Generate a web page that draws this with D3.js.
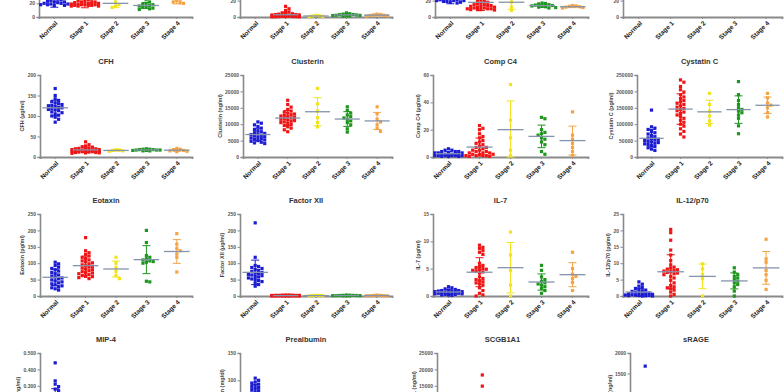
<!DOCTYPE html>
<html><head><meta charset="utf-8">
<script src="https://cdn.jsdelivr.net/npm/d3@7"></script>
<style>body{margin:0;background:#fff}svg{display:block}</style>
</head><body>
<svg id="c" width="784" height="392"></svg>
<script>
const groups = ["Normal", "Stage 1", "Stage 2", "Stage 3", "Stage 4"];
const colors = ["#1c1cd2", "#f01414", "#f2e41c", "#1c961c", "#f5a343"];

// ---- values per panel: [Normal, Stage1, Stage2, Stage3, Stage4]
const a1at = [
  [80,62,52,45,40,36,33,31,29,27,26,25,24,23,22,22,21,20,20,19,19,18,18,17,17],
  [70,55,45,40,36,33,30,28,27,26,25,24,23,22,22,21,21,20,20,19,19,18,18,18,17,17,17,16,16,16],
  [30,22,18,16,14],
  [26,22,20,19,18,17,16,15,14,13,12,11],
  [40,30,26,24,22,21,20]];
const apoA1 = [
  [95,85,78,72,68,65,62,60,58,56,54,52,50,48,46,44,42,40,38,36,34,32,30,28,26],
  [13,10,8,6,5,4,4,3.5,3,3,2.5,2.5,2,2,2,1.5,1.5,1.5,1.2,1,1,1,0.8,0.6,0.5,0.5,0.4,0.3,0.2,0.2],
  [2,1.5,1.2,0.8,0.5],
  [5,4,3.5,3,2.8,2.5,2.2,2,1.8,1.5,1.2,1],
  [3.5,3,2.5,2.2,1.8,1.5,1]];
const b2m = [
  [60,48,40,35,32,30,28,27,26,25,24,23,23,22,22,21,21,20,20,20,19,19,18,18,17],
  [50,40,34,30,27,25,23,21,20,19,18,17,16,15,15,14,14,13,13,12,12,11,11,10,10,10,9,9,9,8.5],
  [30,22,18,12,8],
  [17,16.5,16,15,14.5,14,13.5,13,12.5,12,11.5,11],
  [14,13.5,13,12.5,12,11.5,11]];
const bdnf = [
  [90,85,80,76,72,70,68,66,64,62,60,58,56,54,52,50,48,46,44,42],
  [75,70,66,62,60,58,56,54,52,50,48,46,44,42,40,38,36,34,32,30],
  [60,52,45,40,35],
  [62,58,54,50,47,44,41,38,35,32,30,28],
  [65,58,52,48,44,40,36]];
const cfh = [
  [167,150,142,138,135,132,130,128,126,125,123,121,120,118,116,115,113,110,108,105,102,100,97,92,85],
  [37,30,27,25,24,22,21,20,20,19,18,18,17,17,16,16,15,15,14,14,14,13,13,12,12,11,11,10,10,9],
  [18,17,16,15,14],
  [20,19,19,18,18,17,17,17,16,16,15,15],
  [21,19,18,16,15,14,13]];
const clusterin = [
  [10700,10300,9800,9300,8800,8400,8000,7700,7400,7200,7000,6800,6600,6400,6200,6000,5800,5600,5400,5200,5000,4800,4500,4300,4100],
  [17300,16000,15200,14500,14000,13700,13400,13100,12900,12700,12500,12300,12100,11900,11700,11500,11300,11100,10900,10700,10500,10200,9900,9600,9200,8800,8300,7700],
  [20900,16200,14000,12000,10500,9200],
  [15300,14200,13400,12800,12300,11900,11500,11000,10500,9800,8600,7600],
  [15300,13200,11500,10700,9800,8700,7800]];
const compC4 = [
  [6,5,5,4,4,4,3,3,3,3,2,2,2,2,2,2,1,1,1,1,1,1,0.5,0.5,0.5],
  [23,21,20,17,15,14,12,11,10,9,8,7,7,6,5,5,4,4,3,3,3,2,2,2,1,1,1,1,0.5,0.5],
  [53,27,14,5,1],
  [29,28,20,18,17,16,14,13,11,9,4,2],
  [33,16,13,10,7,4,1]];
const cystatinC = [
  [143000,92000,88000,84000,78000,74000,70000,66000,62000,58000,56000,54000,52000,50000,48000,46000,44000,42000,40000,38000,35000,32000,28000,24000,20000],
  [235000,228000,215000,205000,198000,190000,183000,178000,172000,168000,164000,160000,156000,152000,148000,145000,141000,137000,133000,128000,123000,118000,112000,106000,100000,94000,86000,78000,70000,61000],
  [194000,160000,140000,125000,110000,97000],
  [230000,190000,172000,160000,150000,145000,140000,135000,128000,118000,95000,71000],
  [194000,180000,165000,158000,150000,135000,122000]];
const eotaxin = [
  [103,98,93,88,84,80,76,72,68,64,61,58,55,52,49,46,43,40,37,34,31,28,25,22,18],
  [178,138,132,127,122,118,114,110,107,104,101,98,95,92,90,88,85,82,80,77,74,71,68,65,62,59,56,53,60,70],
  [118,100,86,75,62,53],
  [200,163,123,118,113,110,107,105,103,100,45,43],
  [190,158,145,138,128,118,73]];
const factorXII = [
  [223,118,93,90,87,84,81,78,75,72,70,68,66,64,62,60,58,55,52,50,47,44,40,35,30],
  [3,3,2.5,2.5,2,2,2,2,1.5,1.5,1.5,1.5,1,1,1,1,1,1,0.8,0.8,0.8,0.6,0.6,0.5,0.5,0.5,0.4,0.4,0.3,0.3],
  [2,1.5,1,1,0.5],
  [3,2.5,2,2,1.5,1.5,1,1,1,0.8,0.5,0.5],
  [3,2,1.5,1,1,0.5,0.5]];
const il7 = [
  [1.7,1.5,1.3,1.2,1.1,1,1,0.9,0.9,0.8,0.8,0.7,0.7,0.6,0.6,0.5,0.5,0.5,0.4,0.4,0.3,0.3,0.2,0.2,0.1],
  [9.3,8.9,8.7,8.3,8.0,7.6,6.0,5.6,5.4,5.2,5.0,4.9,4.8,4.7,4.6,4.4,4.2,3.5,3.2,3.0,2.8,2.6,2.4,2.2,2.0,1.5,1.0,0.5,0.2,0],
  [11.7,7.5,4.7,2.0,0],
  [5.6,4.7,3.5,3.0,2.7,2.4,2.2,2.0,1.7,1.4,1.0,0.5],
  [8.0,5.0,4.0,3.6,3.2,2.5,1.0]];
const il12 = [
  [4.3,3.6,3.0,2.6,2.3,2.0,1.8,1.6,1.4,1.2,1.0,0.9,0.8,0.7,0.6,0.5,0.4,0.3,0.3,0.2,0.2,0.1,0.1,0,0],
  [20.3,19.3,17.0,14.0,12.5,10.8,9.5,8.8,8.5,8.2,8.0,7.8,7.6,7.4,7.2,7.0,6.8,6.5,6.0,5.5,4.8,4.0,3.2,2.8,2.5,2.2,1.8,1.2,0.5,0],
  [9.8,8.3,6.5,5.3,0],
  [8.6,7.3,6.5,6.0,5.5,5.0,4.5,4.0,3.5,2.8,1.5,0],
  [17.3,11.3,10.3,7.8,6.5,4.8,2.0]];
const mip4 = [
  [0.44,0.33,0.31,0.295,0.28,0.27,0.25,0.23,0.21,0.2,0.19,0.18,0.17,0.16,0.15,0.14,0.13,0.12,0.11,0.1,0.09,0.08,0.07,0.06,0.05],
  [0.22,0.2,0.18,0.16,0.15,0.14,0.13,0.12,0.11,0.1,0.1,0.09,0.08,0.08,0.07,0.06,0.06,0.05,0.05,0.04],
  [0.15,0.12,0.1,0.08,0.05],
  [0.18,0.15,0.13,0.12,0.1,0.09,0.08,0.07,0.06,0.05,0.04,0.03],
  [0.17,0.14,0.12,0.1,0.08,0.06,0.05]];
const prealbumin = [
  [104,100,97,95,93,91,89,87,85,83,81,79,77,75,73,71,69,67,65,62,60,57,54,50,46],
  [60,52,48,45,42,40,38,36,34,32,30,28,26,24,22,20,18,16,14,12],
  [45,38,30,25,20],
  [55,48,42,38,35,32,30,28,25,22,20,18],
  [50,44,38,33,28,24,20]];
const scgb = [
  [9000,8000,7000,6500,6000,5500,5000,4500,4200,4000,3800,3500,3200,3000,2800,2500,2200,2000,1800,1500],
  [18300,14900,11000,10000,9500,9000,8500,8000,7500,7000,6500,6000,5500,5000,4500,4000,3500,3000,2500,2000,1800,1500,1200,1000,800],
  [8000,6000,5000,3500,2000],
  [9000,8000,7000,6000,5500,5000,4500,4000,3500,3000,2500,2000],
  [8500,7000,6000,5000,4000,3000,2000]];
const srage = [
  [1680,700,600,550,500,480,450,420,400,380,360,340,320,300,280,260,240,220,200,180],
  [500,450,400,380,350,320,300,280,260,240,220,200,180,160,140],
  [420,350,300,250,200],
  [480,420,380,340,300,270,240,210,180,150,120,100],
  [450,380,320,280,240,200,160]];

// ---- titles, labels and axis ticks
const titles  = ["A1AT","Apo A1","B2M","BDNF","CFH","Clusterin","Comp C4","Cystatin C","Eotaxin","Factor XII","IL-7","IL-12/p70","MIP-4","Prealbumin","SCGB1A1","sRAGE"];
const yLabels = ["A1AT (µg/ml)","Apo A1 (µg/ml)","B2M (µg/ml)","BDNF (ng/ml)","CFH (µg/ml)","Clusterin (ng/ml)","Comp C4 (µg/ml)","Cystatin C (pg/ml)","Eotaxin (pg/ml)","Factor XII (µg/ml)","IL-7 (pg/ml)","IL-12/p70 (pg/ml)","MIP-4 (ng/ml)","Prealbumin (mg/dl)","SCGB1A1 (ng/ml)","sRAGE (ng/ml)"];
const tickSets = [
  [0,20,40,60,80,100,120],[0,20,40,60,80,100],[0,20,40,60,80,100],[0,20,40,60,80,100],
  [0,50,100,150,200],[0,5000,10000,15000,20000,25000],[0,20,40,60],[0,50000,100000,150000,200000,250000],
  [0,50,100,150,200,250],[0,50,100,150,200,250],[0,5,10,15],[0,5,10,15,20,25],
  [0,0.1,0.2,0.3,0.4,0.5],[0,50,100,150],[0,5000,10000,15000,20000,25000],[0,500,1000,1500,2000]];
const tickFormats = ["d","d","d","d","d","d","d","d","d","d","d","d",".3f","d","d","d"];
const panelData = [a1at,apoA1,b2m,bdnf,cfh,clusterin,compC4,cystatinC,eotaxin,factorXII,il7,il12,mip4,prealbumin,scgb,srage];

// ---- layout
const rowBase = [17, 157, 296, 435];
const plotH = 82;
const colRight = [192, 392, 588, 782];
const axisXs = [[39,240,435,623],[40,243,433,637],[40,240,433,623],[40,240,437,630]];

const svg = d3.select("#c");
const FONT = "Liberation Sans, Arial, sans-serif";

panelData.forEach((data, i) => {
  const row = Math.floor(i / 4), col = i % 4;
  const ticks = tickSets[i];
  const base = rowBase[row];
  const ax = axisXs[row][col], R = colRight[col];
  const y = d3.scaleLinear().domain([0, ticks[ticks.length - 1]]).range([base, base - plotH]);
  const x = d3.scaleBand().domain(groups).range([ax, R]);
  const bw = x.bandwidth();
  const g = svg.append("g");

  // y axis
  const yg = g.append("g").attr("transform", `translate(${ax},0)`)
    .call(d3.axisLeft(y).tickValues(ticks).tickFormat(d3.format(tickFormats[i])).tickSize(2.5).tickPadding(1.5));
  yg.select(".domain").attr("stroke", "#8a8a8a").attr("stroke-width", 1.6);
  yg.selectAll(".tick line").attr("stroke", "#8a8a8a").attr("stroke-width", 1);
  yg.selectAll(".tick text").attr("font-size", 5).attr("font-family", FONT).attr("fill", "#555").attr("font-weight", "bold");
  let maxW = 0;
  yg.selectAll(".tick text").each(function () { maxW = Math.max(maxW, this.getBBox().width); });

  // x axis
  const xg = g.append("g").attr("transform", `translate(0,${base})`)
    .call(d3.axisBottom(x).tickSize(2).tickFormat(""));
  xg.select(".domain").attr("stroke", "#8a8a8a").attr("stroke-width", 1.8);
  xg.selectAll(".tick line").attr("stroke", "#8a8a8a");
  groups.forEach(gr => {
    const cx = x(gr) + bw / 2 + 2;
    g.append("text").attr("transform", `translate(${cx},${base + 5}) rotate(-45)`)
      .attr("text-anchor", "end").attr("dy", "0.35em")
      .attr("font-size", 6.5).attr("font-weight", "bold").attr("font-family", FONT).attr("fill", "#1a1a1a")
      .text(gr);
  });

  // y label
  g.append("text").attr("transform", `translate(${ax - maxW - 7},${base - plotH / 2}) rotate(-90)`)
    .attr("text-anchor", "middle").attr("font-size", 5.5).attr("font-family", FONT).attr("fill", "#444").attr("font-weight", "bold")
    .text(yLabels[i]);

  // title
  g.append("text").attr("x", (ax - 20 + R) / 2).attr("y", base - 93)
    .attr("text-anchor", "middle").attr("font-size", 7.5).attr("font-weight", "bold").attr("font-family", FONT).attr("fill", "#333")
    .text(titles[i]);

  // points (simple beeswarm)
  data.forEach((vals, gi) => {
    const cx = x(groups[gi]) + bw / 2;
    const placed = [];
    const sorted = vals.slice().sort((a, b) => b - a);
    const step = 3.4, s = 3.2;
    sorted.forEach(v => {
      const py = y(v);
      const cands = [0];
      for (let k = 1; k <= 4; k++) { cands.push(k * step, -k * step); }
      let best = null, bestOv = Infinity;
      for (const dx of cands) {
        let ov = 0;
        for (const p of placed) {
          const ddx = Math.abs(p[0] - dx), ddy = Math.abs(p[1] - py);
          if (ddx < s && ddy < s) ov += (s - ddx) * (s - ddy);
        }
        if (ov === 0) { best = dx; break; }
        if (ov < bestOv) { bestOv = ov; best = dx; }
      }
      placed.push([best, py]);
    });
    g.append("g").selectAll("rect").data(placed).join("rect")
      .attr("x", d => cx + d[0] - 1.6).attr("y", d => d[1] - 1.6)
      .attr("width", 3.2).attr("height", 3.2).attr("fill", colors[gi]);

    // mean ± SD
    const m = d3.mean(vals), sd = d3.deviation(vals) || 0;
    const lo = Math.max(0, m - sd), hi = m + sd;
    const eg = g.append("g").attr("stroke", colors[gi]).attr("stroke-width", 1);
    eg.append("line").attr("x1", cx).attr("x2", cx).attr("y1", y(lo)).attr("y2", y(hi));
    eg.append("line").attr("x1", cx - 4).attr("x2", cx + 4).attr("y1", y(hi)).attr("y2", y(hi));
    eg.append("line").attr("x1", cx - 4).attr("x2", cx + 4).attr("y1", y(lo)).attr("y2", y(lo));
    g.append("line").attr("x1", cx - bw * 0.42).attr("x2", cx + bw * 0.42).attr("y1", y(m)).attr("y2", y(m))
      .attr("stroke", "#8594ad").attr("stroke-width", 1.3);
  });
});
</script>
</body></html>
